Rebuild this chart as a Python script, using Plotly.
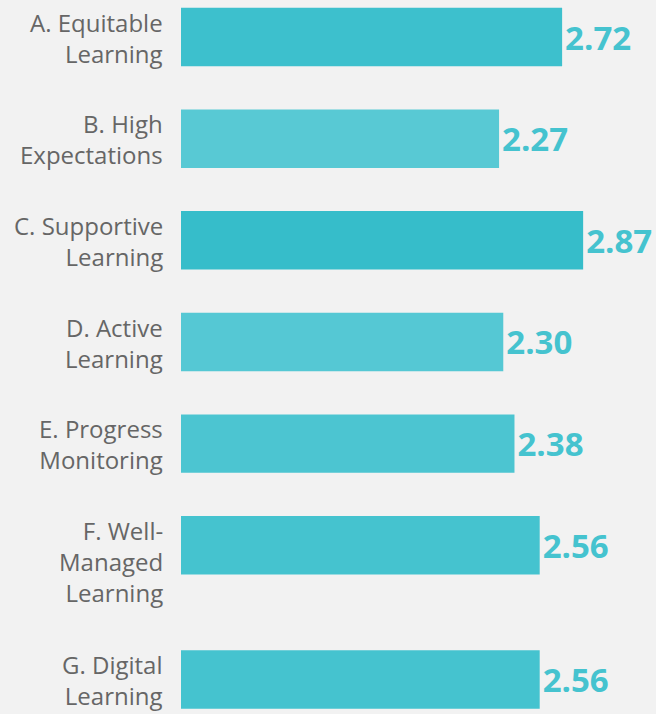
import plotly.graph_objects as go

categories = ["A. Equitable<br>Learning", "B. High<br>Expectations", "C. Supportive<br>Learning",
              "D. Active<br>Learning", "E. Progress<br>Monitoring", "F. Well-<br>Managed<br>Learning",
              "G. Digital<br>Learning"]
values = [2.72, 2.27, 2.87, 2.30, 2.38, 2.56, 2.56]
bar_colors = ["#3dc0cd", "#58c9d4", "#36bdca", "#55c8d4", "#4cc5d1", "#45c3cf", "#45c3cf"]
value_labels = [f"{v:.2f}" for v in values]

# slot positions: extra room after labels with more than two lines
positions = []
p = 0.0
for i, c in enumerate(categories):
    if i > 0:
        extra = categories[i - 1].count("<br>") + 1 - 2
        p += 1 + 0.32 * extra
    positions.append(p)

BAR_W = 0.575

fig = go.Figure(go.Bar(
    x=values, y=positions, orientation="h",
    width=BAR_W,
    marker=dict(color=bar_colors, line=dict(width=0)),
    text=value_labels, textposition="outside",
    textfont=dict(family="Open Sans", size=33, color="#45c3cf", weight="bold"),
    cliponaxis=False,
    hoverinfo="skip",
))

for c, pos in zip(categories, positions):
    fig.add_annotation(
        x=0, y=pos - BAR_W / 2, xref="x", yref="y",
        text=c, showarrow=False, xanchor="right", yanchor="top",
        align="right", xshift=-16, yshift=4,
        font=dict(family="Open Sans", size=24, color="#666666"),
    )

fig.update_layout(
    width=656, height=714,
    margin=dict(l=181, r=0, t=0, b=0),
    paper_bgcolor="#f2f2f2", plot_bgcolor="#f2f2f2",
    showlegend=False,
    xaxis=dict(range=[0, 3.39], visible=False, fixedrange=True),
    yaxis=dict(range=[6.66, -0.364], visible=False, fixedrange=True),
)

fig.write_html("out.html")
